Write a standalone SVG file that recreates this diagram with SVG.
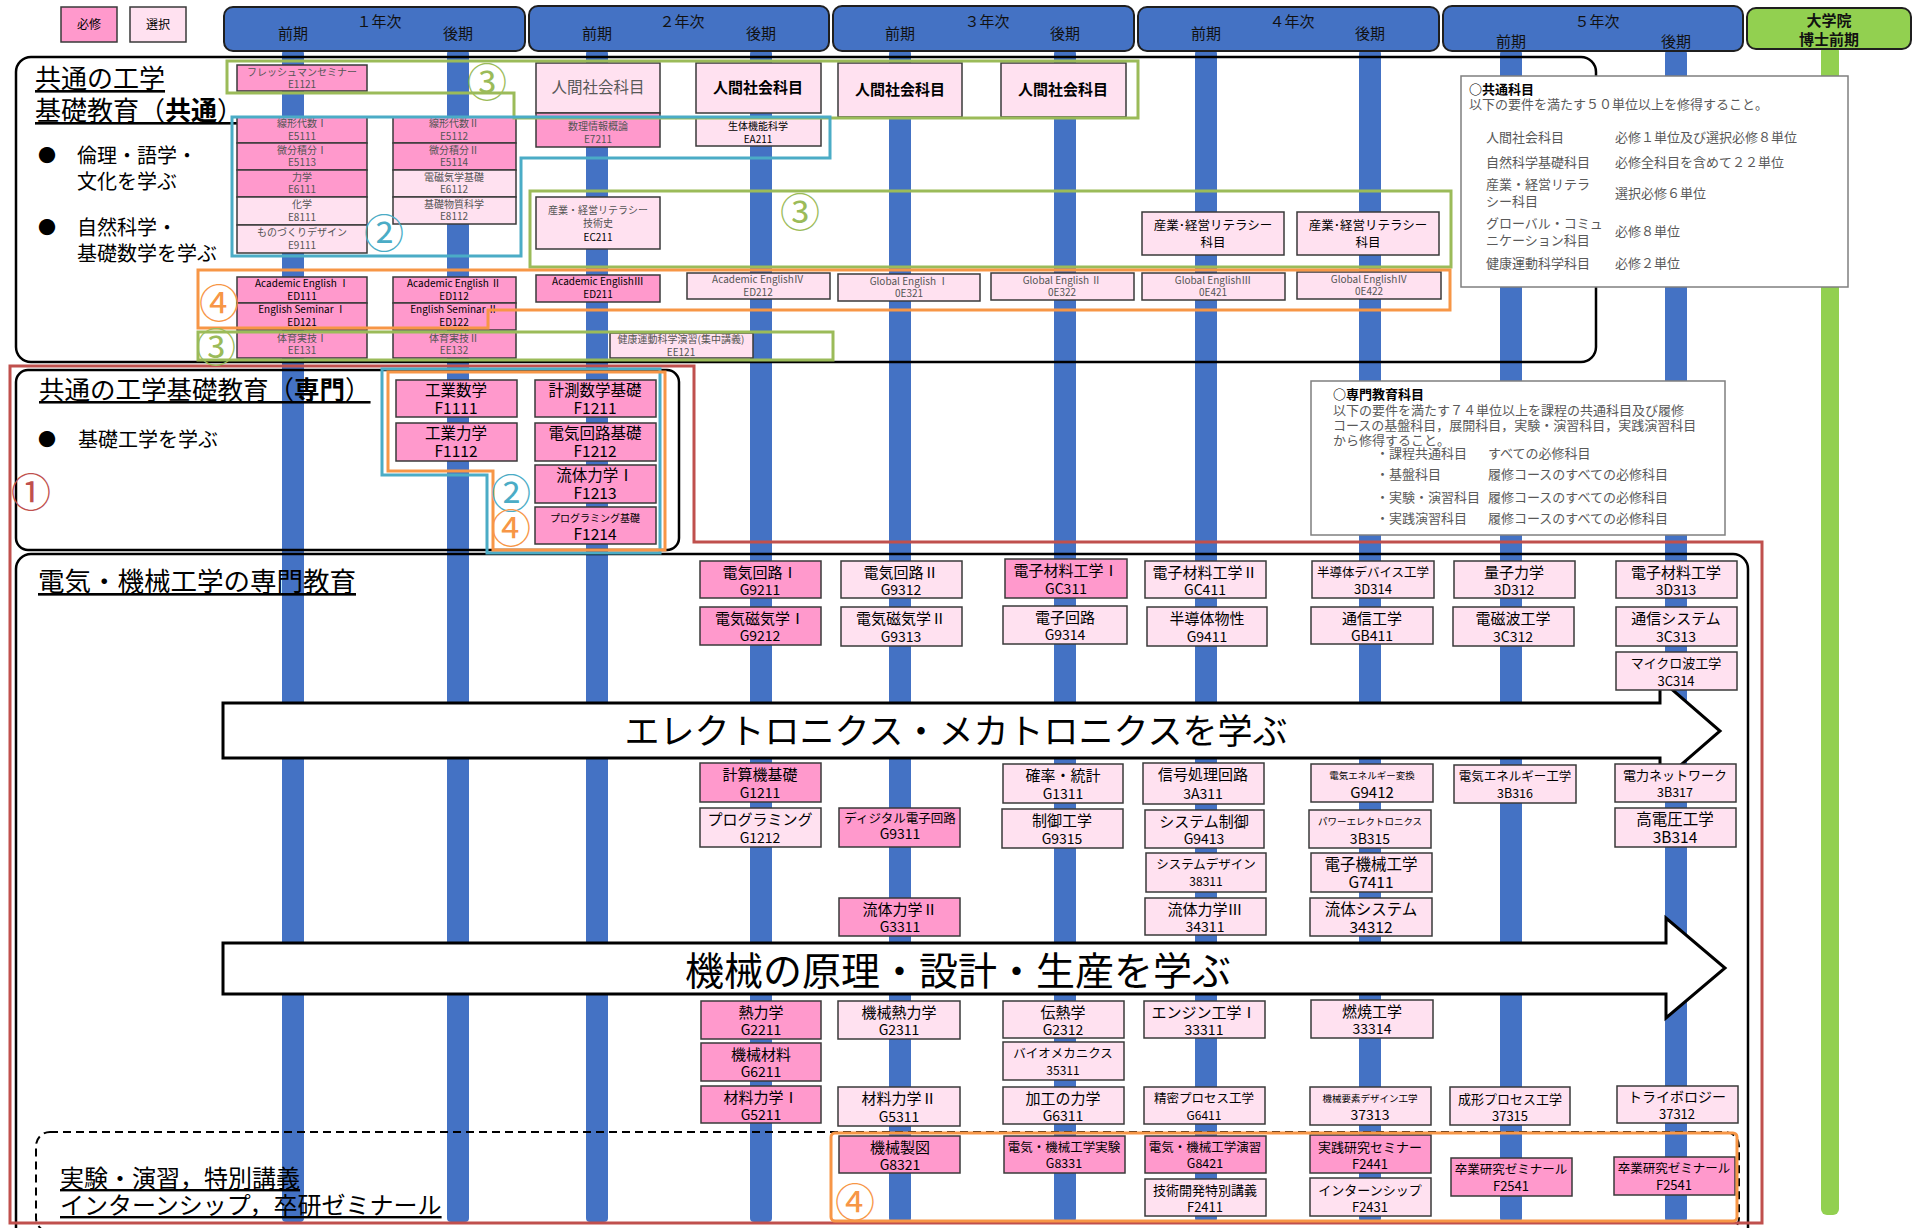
<svg xmlns="http://www.w3.org/2000/svg" width="1921" height="1228" viewBox="0 0 1921 1228">
<style>
text{font-family:"Noto Sans CJK JP","Noto Sans CJK SC",sans-serif}
.c{text-anchor:middle}
.req{fill:#FF99CC;stroke:#3A3A3A;stroke-width:1.5}
.opt{fill:#FFE1F0;stroke:#3A3A3A;stroke-width:1.5}
.hdr{fill:#4472C4;stroke:#1F1F1F;stroke-width:2}
.bar{fill:#4472C4}
.sec{fill:none;stroke:#000;stroke-width:2.5}
.grn{fill:none;stroke:#9BBB59;stroke-width:3}
.tea{fill:none;stroke:#4BACC6;stroke-width:3}
.org{fill:none;stroke:#F79646;stroke-width:3}
.red{fill:none;stroke:#C0504D;stroke-width:3}
.info{fill:#fff;stroke:#7F7F7F;stroke-width:1.5}
.arr{fill:#fff;stroke:#000;stroke-width:3}
.s{font-size:10px;fill:#555}
.sb{font-size:10px;fill:#000}
.n{font-size:15px}
.k{font-size:14px}
.f{font-size:15.5px}
.it{font-size:13px;fill:#595959}
.hd{font-size:15px;fill:#111}
.num{font-size:40px}
.cg{fill:#9BBB59}
.ct{fill:#4BACC6}
.co{fill:#F79646}
.cr{fill:#C0504D}
.gray{fill:#595959}
</style>

<!-- period bars -->
<g id="bars">
<rect class="bar" x="282" y="50" width="22" height="1172" rx="4"/>
<rect class="bar" x="447" y="50" width="22" height="1172" rx="4"/>
<rect class="bar" x="586" y="50" width="22" height="1172" rx="4"/>
<rect class="bar" x="750" y="50" width="22" height="1172" rx="4"/>
<rect class="bar" x="889" y="50" width="22" height="1172" rx="4"/>
<rect class="bar" x="1054" y="50" width="22" height="1172" rx="4"/>
<rect class="bar" x="1195" y="50" width="22" height="1172" rx="4"/>
<rect class="bar" x="1359" y="50" width="22" height="1172" rx="4"/>
<rect class="bar" x="1500" y="50" width="22" height="1172" rx="4"/>
<rect class="bar" x="1665" y="50" width="22" height="1172" rx="4"/>
<rect x="1821" y="45" width="18" height="1170" rx="6" fill="#92D050"/>
</g>

<!-- legend -->
<g id="legend">
<rect class="req" x="61" y="7" width="56" height="35"/>
<text class="c" x="89" y="29" font-size="12">必修</text>
<rect class="opt" x="130" y="7" width="56" height="35"/>
<text class="c" x="158" y="29" font-size="12">選択</text>
</g>

<!-- headers -->
<g id="hdr-y1"><rect class="hdr" x="224" y="7" width="301" height="44" rx="9"/>
<text class="c hd" x="379" y="27">１年次</text><text class="c hd" x="293" y="39">前期</text><text class="c hd" x="458" y="39">後期</text></g>
<g id="hdr-y2"><rect class="hdr" x="529" y="6" width="300" height="45" rx="9"/>
<text class="c hd" x="682" y="27">２年次</text><text class="c hd" x="597" y="39">前期</text><text class="c hd" x="761" y="39">後期</text></g>
<g id="hdr-y3"><rect class="hdr" x="833" y="6" width="301" height="45" rx="9"/>
<text class="c hd" x="987" y="27">３年次</text><text class="c hd" x="900" y="39">前期</text><text class="c hd" x="1065" y="39">後期</text></g>
<g id="hdr-y4"><rect class="hdr" x="1138" y="7" width="301" height="44" rx="9"/>
<text class="c hd" x="1292" y="27">４年次</text><text class="c hd" x="1206" y="39">前期</text><text class="c hd" x="1370" y="39">後期</text></g>
<g id="hdr-y5"><rect class="hdr" x="1443" y="6" width="300" height="45" rx="9"/>
<text class="c hd" x="1597" y="27">５年次</text><text class="c hd" x="1511" y="47">前期</text><text class="c hd" x="1676" y="47">後期</text></g>
<g id="hdr-grad"><rect x="1747" y="8" width="164" height="41" rx="9" fill="#92D050" stroke="#1F1F1F" stroke-width="2"/>
<text class="c hd" x="1829" y="26" font-weight="bold">大学院</text><text class="c hd" x="1829" y="45" font-weight="bold">博士前期</text></g>

<!-- section frames -->
<g id="sec1">
<rect class="sec" x="16" y="57" width="1580" height="305" rx="15"/>
<text x="35" y="88" font-size="26" text-decoration="underline">共通の工学</text>
<text x="35" y="120" font-size="26" text-decoration="underline">基礎教育（<tspan font-weight="bold">共通</tspan>）</text>
<text x="47" y="162" font-size="18" class="c">●</text>
<text x="77" y="163" font-size="20">倫理・語学・</text>
<text x="77" y="189" font-size="20">文化を学ぶ</text>
<text x="47" y="234" font-size="18" class="c">●</text>
<text x="77" y="235" font-size="20">自然科学・</text>
<text x="77" y="261" font-size="20">基礎数学を学ぶ</text>
</g>
<g id="sec2">
<rect class="sec" x="16" y="370" width="663" height="180" rx="12"/>
<text x="39" y="399" font-size="25.5" text-decoration="underline">共通の工学基礎教育（<tspan font-weight="bold">専門</tspan>）</text>
<text x="47" y="446" font-size="18" class="c">●</text>
<text x="78" y="447" font-size="20">基礎工学を学ぶ</text>
</g>
<g id="sec3">
<rect class="sec" x="16" y="554" width="1732" height="690" rx="15"/>
<text x="38" y="591" font-size="26.5" text-decoration="underline">電気・機械工学の専門教育</text>
</g>
<g id="sec-lab">
<rect x="36" y="1132" width="1703" height="100" rx="14" fill="none" stroke="#000" stroke-width="2" stroke-dasharray="8,5"/>
<text x="60" y="1187" font-size="24" text-decoration="underline">実験・演習，特別講義</text>
<text x="60" y="1214" font-size="24" text-decoration="underline">インターンシップ，卒研ゼミナール</text>
</g>

<!-- arrows -->
<g id="arrow-elec">
<polygon class="arr" points="223,703 1660,703 1660,679 1720,731 1660,783 1660,758 223,758"/>
<text class="c" x="956" y="744" font-size="35">エレクトロニクス・メカトロニクスを学ぶ</text>
</g>
<g id="arrow-mech">
<polygon class="arr" points="223,943 1666,943 1666,918 1725,968 1666,1018 1666,994 223,994"/>
<text class="c" x="958" y="985" font-size="39">機械の原理・設計・生産を学ぶ</text>
</g>

<!-- info boxes -->
<g id="info-common">
<rect class="info" x="1461" y="76" width="387" height="211"/>
<text x="1469" y="94" font-size="13" font-weight="bold">○共通科目</text>
<text class="it" x="1469" y="109">以下の要件を満たす５０単位以上を修得すること。</text>
<text class="it" x="1486" y="142">人間社会科目</text><text class="it" x="1615" y="142">必修１単位及び選択必修８単位</text>
<text class="it" x="1486" y="167">自然科学基礎科目</text><text class="it" x="1615" y="167">必修全科目を含めて２２単位</text>
<text class="it" x="1486" y="189">産業・経営リテラ</text><text class="it" x="1486" y="206">シー科目</text><text class="it" x="1615" y="198">選択必修６単位</text>
<text class="it" x="1486" y="228">グローバル・コミュ</text><text class="it" x="1486" y="245">ニケーション科目</text><text class="it" x="1615" y="236">必修８単位</text>
<text class="it" x="1486" y="268">健康運動科学科目</text><text class="it" x="1615" y="268">必修２単位</text>
</g>
<g id="info-spec">
<rect class="info" x="1311" y="381" width="414" height="154"/>
<text x="1333" y="399" font-size="13" font-weight="bold">○専門教育科目</text>
<text class="it" x="1333" y="415">以下の要件を満たす７４単位以上を課程の共通科目及び履修</text>
<text class="it" x="1333" y="430">コースの基盤科目，展開科目，実験・演習科目，実践演習科目</text>
<text class="it" x="1333" y="445">から修得すること。</text>
<text class="it" x="1376" y="458">・課程共通科目</text><text class="it" x="1488" y="458">すべての必修科目</text>
<text class="it" x="1376" y="479">・基盤科目</text><text class="it" x="1488" y="479">履修コースのすべての必修科目</text>
<text class="it" x="1376" y="502">・実験・演習科目</text><text class="it" x="1488" y="502">履修コースのすべての必修科目</text>
<text class="it" x="1376" y="523">・実践演習科目</text><text class="it" x="1488" y="523">履修コースのすべての必修科目</text>
</g>

<!-- common basic courses (section 1) -->
<g id="E1121"><rect class="req" x="237" y="65" width="130" height="26"/><text class="c s" x="302" y="76">フレッシュマンセミナー</text><text class="c s" x="302" y="88">E1121</text></g>
<g id="E5111"><rect class="req" x="237" y="117" width="130" height="26"/><text class="c s" x="302" y="127">線形代数Ⅰ</text><text class="c s" x="302" y="140">E5111</text></g>
<g id="E5113"><rect class="req" x="237" y="143" width="130" height="27"/><text class="c s" x="302" y="154">微分積分Ⅰ</text><text class="c s" x="302" y="166">E5113</text></g>
<g id="E6111"><rect class="req" x="237" y="170" width="130" height="27"/><text class="c s" x="302" y="181">力学</text><text class="c s" x="302" y="193">E6111</text></g>
<g id="E8111"><rect class="opt" x="237" y="197" width="130" height="28"/><text class="c s" x="302" y="208">化学</text><text class="c s" x="302" y="221">E8111</text></g>
<g id="E9111"><rect class="opt" x="237" y="225" width="130" height="28"/><text class="c s" x="302" y="236">ものづくりデザイン</text><text class="c s" x="302" y="249">E9111</text></g>
<g id="E5112"><rect class="req" x="393" y="117" width="123" height="26"/><text class="c s" x="454" y="127">線形代数Ⅱ</text><text class="c s" x="454" y="140">E5112</text></g>
<g id="E5114"><rect class="req" x="393" y="143" width="123" height="27"/><text class="c s" x="454" y="154">微分積分Ⅱ</text><text class="c s" x="454" y="166">E5114</text></g>
<g id="E6112"><rect class="opt" x="393" y="170" width="123" height="27"/><text class="c s" x="454" y="181">電磁気学基礎</text><text class="c s" x="454" y="193">E6112</text></g>
<g id="E8112"><rect class="opt" x="393" y="197" width="123" height="27"/><text class="c s" x="454" y="208">基礎物質科学</text><text class="c s" x="454" y="220">E8112</text></g>
<g id="ED111"><rect class="req" x="237" y="277" width="130" height="26"/><text class="c sb" x="302" y="287">Academic English Ⅰ</text><text class="c sb" x="302" y="300">ED111</text></g>
<g id="ED121"><rect class="req" x="237" y="303" width="130" height="27"/><text class="c sb" x="302" y="313">English Seminar Ⅰ</text><text class="c sb" x="302" y="326">ED121</text></g>
<g id="ED112"><rect class="req" x="393" y="277" width="123" height="26"/><text class="c sb" x="454" y="287">Academic English Ⅱ</text><text class="c sb" x="454" y="300">ED112</text></g>
<g id="ED122"><rect class="req" x="393" y="303" width="123" height="27"/><text class="c sb" x="454" y="313">English Seminar Ⅱ</text><text class="c sb" x="454" y="326">ED122</text></g>
<g id="EE131"><rect class="req" x="237" y="332" width="130" height="26"/><text class="c s" x="302" y="342">体育実技Ⅰ</text><text class="c s" x="302" y="354">EE131</text></g>
<g id="EE132"><rect class="req" x="393" y="332" width="123" height="26"/><text class="c s" x="454" y="342">体育実技Ⅱ</text><text class="c s" x="454" y="354">EE132</text></g>
<g id="HS1"><rect class="opt" x="536" y="63" width="124" height="50"/><text class="c gray" x="598" y="93" font-size="15.5">人間社会科目</text></g>
<g id="HS2"><rect class="opt" x="696" y="63" width="125" height="50"/><text class="c" x="758" y="93" font-size="15" font-weight="bold">人間社会科目</text></g>
<g id="HS3"><rect class="opt" x="838" y="63" width="124" height="54"/><text class="c" x="900" y="95" font-size="15" font-weight="bold">人間社会科目</text></g>
<g id="HS4"><rect class="opt" x="1001" y="63" width="125" height="54"/><text class="c" x="1063" y="95" font-size="15" font-weight="bold">人間社会科目</text></g>
<g id="E7211"><rect class="req" x="536" y="113" width="124" height="34"/><text class="c s" x="598" y="130">数理情報概論</text><text class="c s" x="598" y="143">E7211</text></g>
<g id="EA211"><rect class="opt" x="696" y="118" width="125" height="28"/><text class="c sb" x="758" y="130">生体機能科学</text><text class="c sb" x="758" y="143">EA211</text></g>
<g id="EC211"><rect class="opt" x="536" y="197" width="124" height="52"/><text class="c s" x="598" y="214">産業・経営リテラシー</text><text class="c s" x="598" y="227">技術史</text><text class="c sb" x="598" y="241">EC211</text></g>
<g id="ED211"><rect class="req" x="536" y="275" width="124" height="27"/><text class="c sb" x="598" y="285">Academic EnglishⅢ</text><text class="c sb" x="598" y="298">ED211</text></g>
<g id="ED212"><rect class="opt" x="687" y="273" width="143" height="26"/><text class="c s" x="758" y="283">Academic EnglishⅣ</text><text class="c s" x="758" y="296">ED212</text></g>
<g id="OE321"><rect class="opt" x="838" y="274" width="142" height="27"/><text class="c s" x="909" y="285">Global English Ⅰ</text><text class="c s" x="909" y="297">0E321</text></g>
<g id="OE322"><rect class="opt" x="991" y="273" width="143" height="27"/><text class="c s" x="1062" y="284">Global English Ⅱ</text><text class="c s" x="1062" y="296">0E322</text></g>
<g id="OE421"><rect class="opt" x="1142" y="273" width="143" height="27"/><text class="c s" x="1213" y="284">Global EnglishⅢ</text><text class="c s" x="1213" y="296">0E421</text></g>
<g id="OE422"><rect class="opt" x="1297" y="272" width="144" height="27"/><text class="c s" x="1369" y="283">Global EnglishⅣ</text><text class="c s" x="1369" y="295">0E422</text></g>
<g id="EE121"><rect class="opt" x="610" y="333" width="143" height="25"/><text class="c s" x="681" y="343">健康運動科学演習(集中講義)</text><text class="c s" x="681" y="356">EE121</text></g>
<g id="IL1"><rect class="opt" x="1142" y="212" width="142" height="43"/><text class="c" x="1213" y="230" font-size="12.5">産業･経営リテラシー</text><text class="c" x="1213" y="247" font-size="12.5">科目</text></g>
<g id="IL2"><rect class="opt" x="1297" y="212" width="142" height="43"/><text class="c" x="1368" y="230" font-size="12.5">産業･経営リテラシー</text><text class="c" x="1368" y="247" font-size="12.5">科目</text></g>

<!-- section 2 courses -->
<g id="F1111"><rect class="req" x="396" y="380" width="121" height="37"/><text class="c f" x="456" y="396">工業数学</text><text class="c f" x="456" y="414">F1111</text></g>
<g id="F1112"><rect class="req" x="396" y="423" width="121" height="38"/><text class="c f" x="456" y="439">工業力学</text><text class="c f" x="456" y="457">F1112</text></g>
<g id="F1211"><rect class="req" x="535" y="380" width="121" height="37"/><text class="c f" x="595" y="396">計測数学基礎</text><text class="c f" x="595" y="414">F1211</text></g>
<g id="F1212"><rect class="req" x="535" y="423" width="121" height="38"/><text class="c f" x="595" y="439">電気回路基礎</text><text class="c f" x="595" y="457">F1212</text></g>
<g id="F1213"><rect class="req" x="535" y="465" width="121" height="38"/><text class="c f" x="595" y="481">流体力学Ⅰ</text><text class="c f" x="595" y="499">F1213</text></g>
<g id="F1214"><rect class="req" x="535" y="507" width="121" height="37"/><text class="c" x="595" y="522" font-size="10">プログラミング基礎</text><text class="c f" x="595" y="540">F1214</text></g>

<!-- section 3 courses -->
<g id="G9211"><rect class="req" x="700" y="561" width="121" height="37"/><text class="c n" x="760" y="578">電気回路Ⅰ</text><text class="c k" x="760" y="595">G9211</text></g>
<g id="G9212"><rect class="req" x="700" y="607" width="121" height="38"/><text class="c n" x="760" y="624">電気磁気学Ⅰ</text><text class="c k" x="760" y="641">G9212</text></g>
<g id="G1211"><rect class="req" x="700" y="763" width="121" height="39"/><text class="c n" x="760" y="780">計算機基礎</text><text class="c k" x="760" y="798">G1211</text></g>
<g id="G1212"><rect class="opt" x="700" y="808" width="121" height="39"/><text class="c n" x="760" y="825">プログラミング</text><text class="c k" x="760" y="843">G1212</text></g>
<g id="G2211"><rect class="req" x="701" y="1001" width="120" height="38"/><text class="c n" x="761" y="1018">熱力学</text><text class="c k" x="761" y="1035">G2211</text></g>
<g id="G6211"><rect class="req" x="701" y="1043" width="120" height="38"/><text class="c n" x="761" y="1060">機械材料</text><text class="c k" x="761" y="1077">G6211</text></g>
<g id="G5211"><rect class="req" x="701" y="1086" width="120" height="37"/><text class="c n" x="761" y="1103">材料力学Ⅰ</text><text class="c k" x="761" y="1120">G5211</text></g>

<g id="G9312"><rect class="opt" x="841" y="561" width="121" height="37"/><text class="c n" x="901" y="578">電気回路Ⅱ</text><text class="c k" x="901" y="595">G9312</text></g>
<g id="G9313"><rect class="opt" x="841" y="607" width="121" height="39"/><text class="c n" x="901" y="624">電気磁気学Ⅱ</text><text class="c k" x="901" y="642">G9313</text></g>
<g id="G9311"><rect class="req" x="839" y="808" width="121" height="39"/><text class="c" x="900" y="823" font-size="12.5">ディジタル電子回路</text><text class="c k" x="900" y="839">G9311</text></g>
<g id="G3311"><rect class="req" x="839" y="898" width="121" height="38"/><text class="c n" x="900" y="915">流体力学Ⅱ</text><text class="c k" x="900" y="932">G3311</text></g>
<g id="G2311"><rect class="opt" x="838" y="1001" width="122" height="38"/><text class="c n" x="899" y="1018">機械熱力学</text><text class="c k" x="899" y="1035">G2311</text></g>
<g id="G5311"><rect class="opt" x="838" y="1087" width="122" height="39"/><text class="c n" x="899" y="1104">材料力学Ⅱ</text><text class="c k" x="899" y="1122">G5311</text></g>
<g id="G8321"><rect class="req" x="839" y="1136" width="121" height="37"/><text class="c n" x="900" y="1153">機械製図</text><text class="c k" x="900" y="1170">G8321</text></g>

<g id="GC311"><rect class="req" x="1005" y="559" width="122" height="39"/><text class="c n" x="1066" y="576">電子材料工学Ⅰ</text><text class="c k" x="1066" y="594">GC311</text></g>
<g id="G9314"><rect class="opt" x="1003" y="606" width="124" height="38"/><text class="c n" x="1065" y="623">電子回路</text><text class="c k" x="1065" y="640">G9314</text></g>
<g id="G1311"><rect class="opt" x="1003" y="764" width="120" height="39"/><text class="c n" x="1063" y="781">確率・統計</text><text class="c k" x="1063" y="799">G1311</text></g>
<g id="G9315"><rect class="opt" x="1002" y="809" width="121" height="39"/><text class="c n" x="1062" y="826">制御工学</text><text class="c k" x="1062" y="844">G9315</text></g>
<g id="G2312"><rect class="opt" x="1003" y="1001" width="121" height="37"/><text class="c n" x="1063" y="1018">伝熱学</text><text class="c k" x="1063" y="1035">G2312</text></g>
<g id="C35311"><rect class="opt" x="1003" y="1042" width="121" height="38"/><text class="c" x="1063" y="1058" font-size="12.5">バイオメカニクス</text><text class="c" x="1063" y="1075" font-size="12">35311</text></g>
<g id="G6311"><rect class="opt" x="1003" y="1087" width="121" height="37"/><text class="c n" x="1063" y="1104">加工の力学</text><text class="c k" x="1063" y="1121">G6311</text></g>
<g id="G8331"><rect class="req" x="1004" y="1136" width="121" height="37"/><text class="c" x="1064" y="1152" font-size="12.5">電気・機械工学実験</text><text class="c" x="1064" y="1168" font-size="12.5">G8331</text></g>

<g id="GC411"><rect class="opt" x="1145" y="561" width="121" height="37"/><text class="c n" x="1205" y="578">電子材料工学Ⅱ</text><text class="c k" x="1205" y="595">GC411</text></g>
<g id="G9411"><rect class="opt" x="1147" y="607" width="120" height="39"/><text class="c n" x="1207" y="624">半導体物性</text><text class="c k" x="1207" y="642">G9411</text></g>
<g id="C3A311"><rect class="opt" x="1143" y="763" width="121" height="41"/><text class="c n" x="1203" y="780">信号処理回路</text><text class="c k" x="1203" y="799">3A311</text></g>
<g id="G9413"><rect class="opt" x="1145" y="810" width="119" height="38"/><text class="c n" x="1204" y="827">システム制御</text><text class="c k" x="1204" y="844">G9413</text></g>
<g id="C38311"><rect class="opt" x="1146" y="853" width="120" height="39"/><text class="c" x="1206" y="869" font-size="12.5">システムデザイン</text><text class="c" x="1206" y="886" font-size="12">38311</text></g>
<g id="C34311"><rect class="opt" x="1145" y="898" width="121" height="37"/><text class="c n" x="1205" y="915">流体力学Ⅲ</text><text class="c k" x="1205" y="932">34311</text></g>
<g id="C33311"><rect class="opt" x="1144" y="1001" width="121" height="37"/><text class="c n" x="1204" y="1018">エンジン工学Ⅰ</text><text class="c k" x="1204" y="1035">33311</text></g>
<g id="G6411"><rect class="opt" x="1144" y="1087" width="121" height="37"/><text class="c" x="1204" y="1103" font-size="12.5">精密プロセス工学</text><text class="c" x="1204" y="1120" font-size="12">G6411</text></g>
<g id="G8421"><rect class="req" x="1145" y="1136" width="121" height="37"/><text class="c" x="1205" y="1152" font-size="12.5">電気・機械工学演習</text><text class="c" x="1205" y="1168" font-size="12.5">G8421</text></g>
<g id="F2411"><rect class="opt" x="1145" y="1179" width="121" height="37"/><text class="c" x="1205" y="1195" font-size="13">技術開発特別講義</text><text class="c" x="1205" y="1212" font-size="13">F2411</text></g>

<g id="C3D314"><rect class="opt" x="1312" y="561" width="122" height="37"/><text class="c" x="1373" y="577" font-size="12.5">半導体デバイス工学</text><text class="c" x="1373" y="594" font-size="13">3D314</text></g>
<g id="GB411"><rect class="opt" x="1311" y="607" width="122" height="37"/><text class="c n" x="1372" y="624">通信工学</text><text class="c k" x="1372" y="641">GB411</text></g>
<g id="G9412"><rect class="opt" x="1311" y="764" width="122" height="38"/><text class="c" x="1372" y="779" font-size="9.5">電気エネルギー変換</text><text class="c n" x="1372" y="798">G9412</text></g>
<g id="C3B315"><rect class="opt" x="1309" y="810" width="122" height="38"/><text class="c" x="1370" y="825" font-size="9.5">パワーエレクトロニクス</text><text class="c k" x="1370" y="844">3B315</text></g>
<g id="G7411"><rect class="opt" x="1311" y="853" width="121" height="39"/><text class="c f" x="1371" y="870">電子機械工学</text><text class="c f" x="1371" y="888">G7411</text></g>
<g id="C34312"><rect class="opt" x="1310" y="898" width="122" height="38"/><text class="c f" x="1371" y="915">流体システム</text><text class="c f" x="1371" y="933">34312</text></g>
<g id="C33314"><rect class="opt" x="1311" y="1000" width="122" height="38"/><text class="c n" x="1372" y="1017">燃焼工学</text><text class="c k" x="1372" y="1034">33314</text></g>
<g id="C37313"><rect class="opt" x="1310" y="1087" width="121" height="38"/><text class="c" x="1370" y="1102" font-size="9.5">機械要素デザイン工学</text><text class="c k" x="1370" y="1120">37313</text></g>
<g id="F2441"><rect class="req" x="1310" y="1135" width="121" height="38"/><text class="c" x="1370" y="1152" font-size="13">実践研究セミナー</text><text class="c" x="1370" y="1169" font-size="13">F2441</text></g>
<g id="F2431"><rect class="opt" x="1310" y="1178" width="121" height="38"/><text class="c" x="1370" y="1195" font-size="13">インターンシップ</text><text class="c" x="1370" y="1212" font-size="13">F2431</text></g>

<g id="C3D312"><rect class="opt" x="1454" y="561" width="121" height="37"/><text class="c n" x="1514" y="578">量子力学</text><text class="c k" x="1514" y="595">3D312</text></g>
<g id="C3C312"><rect class="opt" x="1453" y="607" width="121" height="39"/><text class="c n" x="1513" y="624">電磁波工学</text><text class="c k" x="1513" y="642">3C312</text></g>
<g id="C3B316"><rect class="opt" x="1454" y="765" width="122" height="38"/><text class="c" x="1515" y="781" font-size="12.5">電気エネルギー工学</text><text class="c" x="1515" y="798" font-size="12.5">3B316</text></g>
<g id="C37315"><rect class="opt" x="1450" y="1087" width="120" height="38"/><text class="c" x="1510" y="1104" font-size="13">成形プロセス工学</text><text class="c" x="1510" y="1121" font-size="13">37315</text></g>
<g id="F2541a"><rect class="req" x="1451" y="1158" width="121" height="38"/><text class="c" x="1511" y="1174" font-size="12.5">卒業研究ゼミナール</text><text class="c" x="1511" y="1191" font-size="13">F2541</text></g>

<g id="C3D313"><rect class="opt" x="1616" y="561" width="121" height="37"/><text class="c n" x="1676" y="578">電子材料工学</text><text class="c k" x="1676" y="595">3D313</text></g>
<g id="C3C313"><rect class="opt" x="1616" y="607" width="121" height="39"/><text class="c n" x="1676" y="624">通信システム</text><text class="c k" x="1676" y="642">3C313</text></g>
<g id="C3C314"><rect class="opt" x="1616" y="652" width="121" height="38"/><text class="c" x="1676" y="668" font-size="13">マイクロ波工学</text><text class="c" x="1676" y="686" font-size="13">3C314</text></g>
<g id="C3B317"><rect class="opt" x="1615" y="764" width="121" height="38"/><text class="c" x="1675" y="780" font-size="13">電力ネットワーク</text><text class="c" x="1675" y="797" font-size="12.5">3B317</text></g>
<g id="C3B314"><rect class="opt" x="1615" y="808" width="121" height="39"/><text class="c f" x="1675" y="825">高電圧工学</text><text class="c f" x="1675" y="843">3B314</text></g>
<g id="C37312"><rect class="opt" x="1617" y="1086" width="121" height="37"/><text class="c" x="1677" y="1102" font-size="14">トライボロジー</text><text class="c" x="1677" y="1119" font-size="13">37312</text></g>
<g id="F2541b"><rect class="req" x="1614" y="1157" width="121" height="38"/><text class="c" x="1674" y="1173" font-size="12.5">卒業研究ゼミナール</text><text class="c" x="1674" y="1190" font-size="13">F2541</text></g>

<!-- category outlines -->
<g id="outlines">
<polygon class="red" points="10,366 694,366 694,542 1762,542 1762,1223 10,1223"/>
<polygon class="grn" points="227,61 1138,61 1138,118 514,118 514,93 227,93"/>
<polygon class="tea" points="232,117 830,117 830,158 521,158 521,256 232,256"/>
<rect class="grn" x="530" y="191" width="921" height="76"/>
<polygon class="org" points="198,270 1450,270 1450,310 488,310 488,328 198,328"/>
<rect class="grn" x="198" y="332" width="635" height="28"/>
<polygon class="tea" points="382,369 660,369 660,553 487,553 487,475 382,475"/>
<polygon class="org" points="388,372 665,372 665,550 493,550 493,471 388,471"/>
<rect class="org" x="831" y="1133" width="906" height="88" rx="4"/>
</g>
<g id="labels">
<text class="c num cg" x="487" y="97">③</text>
<text class="c num cg" x="800" y="227">③</text>
<text class="c num cg" x="216" y="362">③</text>
<text class="c num ct" x="384" y="248">②</text>
<text class="c num co" x="219" y="318">④</text>
<text class="c num ct" x="511" y="508">②</text>
<text class="c num co" x="511" y="543">④</text>
<text class="c num co" x="855" y="1217">④</text>
<text class="c num cr" x="31" y="507">①</text>
</g>
</svg>
